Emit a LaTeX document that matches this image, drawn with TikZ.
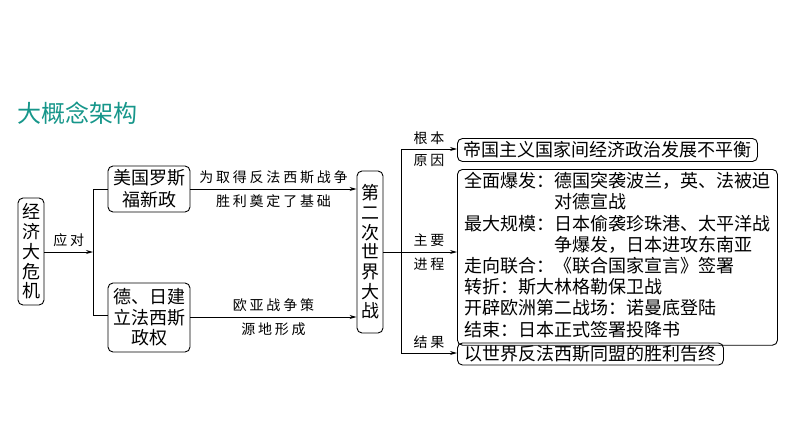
\documentclass[tikz,border=0pt]{standalone}
\usepackage{fontspec}
\usetikzlibrary{arrows.meta}
\newfontfamily\cjk{Noto Sans CJK SC}
\newfontfamily\cjklab[LetterSpace=20]{Noto Sans CJK SC}
\definecolor{titleteal}{RGB}{22,150,138}
\tikzset{
  rbox/.style={draw=black, line width=0.9pt, rounded corners=5pt, inner sep=0pt, font=\cjk\fontsize{18}{21}\selectfont, align=center},
  lab/.style={font=\cjklab\fontsize{14}{16}\selectfont, inner sep=0pt},
  conn/.style={line width=0.9pt},
  arr/.style={line width=0.9pt, -{Stealth[length=7pt,width=4pt]}}
}
\begin{document}
\begin{tikzpicture}[x=1pt,y=-1pt]
\useasboundingbox (0,0) rectangle (794,447);
\node[font=\cjk\fontsize{24}{26}\selectfont, text=titleteal, anchor=west, inner sep=0pt] (title) at (17,113) {大概念架构};
% left column
\node[rbox, minimum width=26, minimum height=107, font=\cjk\fontsize{18}{19.7}\selectfont] (crisis) at (31,251.5) {经\\济\\大\\危\\机};
\coordinate (split) at (93,252);
\coordinate (splitT) at (93,189);
\coordinate (splitB) at (93,315);
\draw[arr] (crisis.east |- split) -- (split) node[lab, midway, above=5pt] {应对};
\node[rbox, minimum width=82, minimum height=46, font=\cjk\fontsize{18}{22}\selectfont] (usa) at (149,189) {美国罗斯\\福新政};
\node[rbox, minimum width=82, minimum height=69, font=\cjk\fontsize{18}{20.5}\selectfont] (fas) at (149,317.5) {德、日建\\立法西斯\\政权};
\draw[conn] (splitT) -- (splitB);
\draw[conn] (splitT) -- (usa.west |- splitT);
\draw[conn] (splitB) -- (fas.west |- splitB);
% WWII
\node[rbox, minimum width=26, minimum height=162, font=\cjk\fontsize{18}{19.7}\selectfont] (ww) at (370,252) {第\\二\\次\\世\\界\\大\\战};
\draw[arr] (usa.east |- 0,189) -- (ww.west |- 0,189)
  node[lab, midway, above=5pt] {为取得反法西斯战争}
  node[lab, midway, below=5pt] {胜利奠定了基础};
\draw[arr] (fas.east |- 0,317) -- (ww.west |- 0,317)
  node[lab, midway, above=5pt] {欧亚战争策}
  node[lab, midway, below=5pt] {源地形成};
% right branch
\coordinate (rv) at (401,252);
\coordinate (rvT) at (401,149);
\coordinate (rvB) at (401,353);
\draw[conn] (ww.east |- rv) -- (rv);
\draw[conn] (rvT) -- (rvB);
\node[rbox, anchor=west, minimum width=300, minimum height=23] (cause) at (457,150) {帝国主义国家间经济政治发展不平衡};
\node[rbox, anchor=north west, minimum width=320, minimum height=166, align=left, inner xsep=4pt, inner ysep=3pt, font=\cjk\fontsize{18}{20}\selectfont] (proc) at (457,169) {%
\begin{tabular}{@{}l@{}l@{}}
全面爆发：& 德国突袭波兰，英、法被迫\\
& 对德宣战\\
最大规模：& 日本偷袭珍珠港、太平洋战\\
& 争爆发，日本进攻东南亚\\
\multicolumn{2}{@{}l@{}}{走向联合：《联合国家宣言》签署}\\
\multicolumn{2}{@{}l@{}}{转折：斯大林格勒保卫战}\\
\multicolumn{2}{@{}l@{}}{开辟欧洲第二战场：诺曼底登陆}\\
\multicolumn{2}{@{}l@{}}{结束：日本正式签署投降书}
\end{tabular}};
\node[rbox, anchor=west, minimum width=266, minimum height=22] (result) at (457,354) {以世界反法西斯同盟的胜利告终};
\draw[arr] (rvT) -- (cause.west |- rvT)
  node[lab, midway, above=4pt] {根本}
  node[lab, midway, below=5pt] {原因};
\draw[arr] (rvT |- 0,252) -- (proc.west |- 0,252)
  node[lab, midway, above=5pt] {主要}
  node[lab, midway, below=5pt] {进程};
\draw[arr] (rvB) -- (result.west |- rvB)
  node[lab, midway, above=4pt] {结果};
\end{tikzpicture}
\end{document}
